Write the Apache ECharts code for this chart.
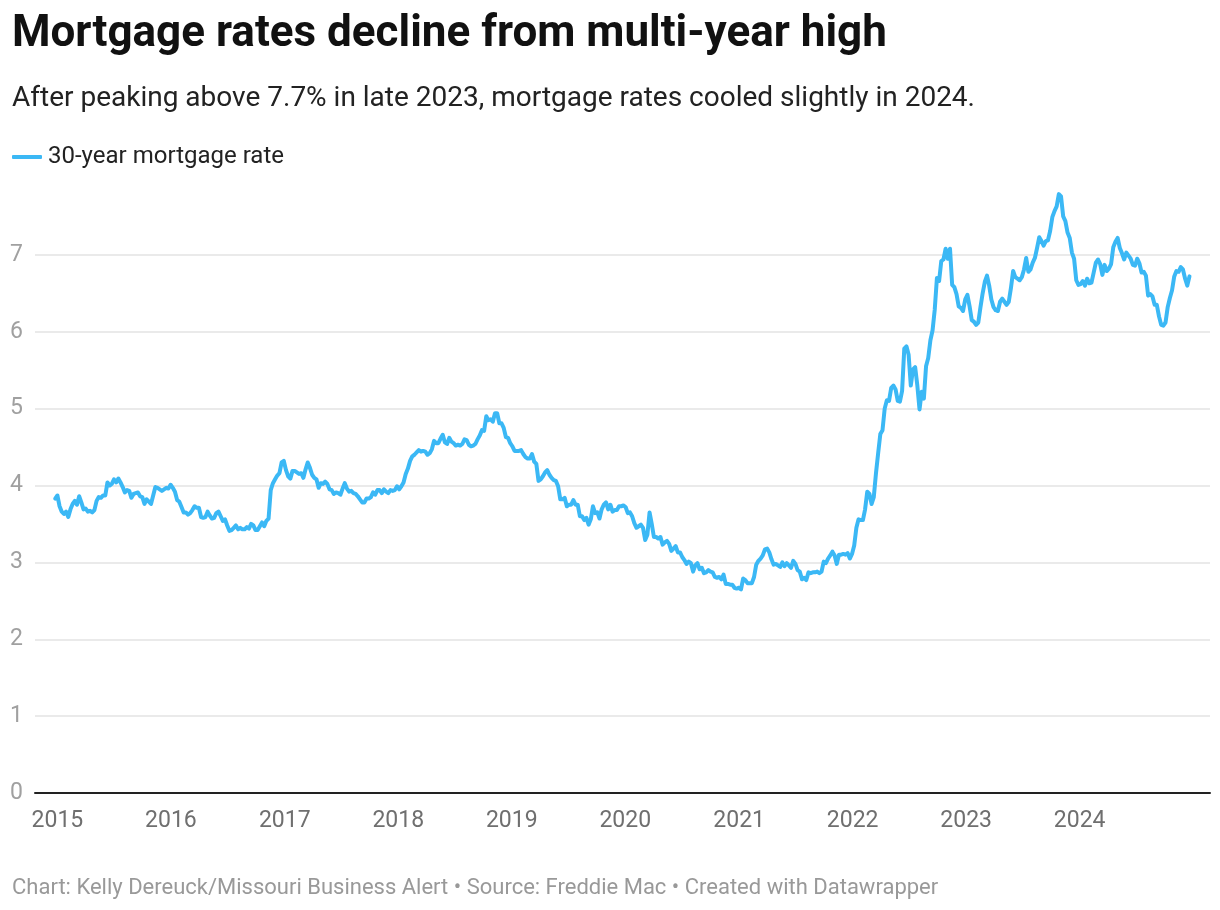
<!DOCTYPE html>
<html>
<head>
<meta charset="utf-8">
<script src="https://cdn.jsdelivr.net/npm/echarts@6/dist/echarts.min.js"></script>
<style>
  html, body { margin: 0; padding: 0; background: #ffffff; }
  #chart { width: 1220px; height: 910px; }
</style>
</head>
<body>
<div id="chart"></div>
<script>
// Weekly 30-year fixed mortgage rate (%), Freddie Mac PMMS.
var firstWeek = '2014-12-25';
var rates2014 = [3.83];
var rates2015 = [3.87,3.73,3.66,3.63,3.66,3.59,3.69,3.76,3.80,3.75,3.86,3.78,3.69,3.70,3.66,3.67,3.65,3.68,3.80,3.85,3.84,3.87,3.87,4.04,4.00,4.02,4.08,4.04,4.09,4.04,3.98,3.91,3.94,3.93,3.84,3.89,3.90,3.91,3.86,3.85,3.76,3.82,3.79,3.76,3.87,3.98,3.97,3.95,3.93,3.95,3.97,3.96,4.01];
var rates2016 = [3.97,3.92,3.81,3.79,3.72,3.65,3.65,3.62,3.64,3.68,3.73,3.71,3.71,3.59,3.58,3.59,3.66,3.61,3.57,3.58,3.64,3.66,3.60,3.54,3.56,3.48,3.41,3.42,3.45,3.48,3.43,3.45,3.43,3.43,3.46,3.44,3.50,3.48,3.42,3.42,3.47,3.52,3.47,3.54,3.57,3.94,4.03,4.08,4.13,4.16,4.30,4.32];
var rates2017 = [4.20,4.12,4.09,4.19,4.19,4.17,4.15,4.16,4.10,4.21,4.30,4.23,4.14,4.10,4.08,3.97,4.03,4.02,4.05,4.02,3.95,3.94,3.89,3.91,3.90,3.88,3.96,4.03,3.96,3.92,3.93,3.90,3.89,3.86,3.82,3.78,3.78,3.83,3.83,3.85,3.91,3.88,3.94,3.94,3.90,3.95,3.92,3.90,3.94,3.93,3.94,3.99];
var rates2018 = [3.95,3.99,4.04,4.15,4.22,4.32,4.38,4.40,4.43,4.46,4.44,4.45,4.44,4.40,4.42,4.47,4.58,4.55,4.55,4.61,4.66,4.56,4.54,4.62,4.57,4.55,4.52,4.53,4.52,4.54,4.60,4.59,4.53,4.51,4.52,4.54,4.60,4.65,4.72,4.71,4.90,4.85,4.86,4.83,4.94,4.94,4.81,4.81,4.75,4.63,4.62,4.55];
var rates2019 = [4.51,4.45,4.45,4.45,4.46,4.41,4.37,4.35,4.35,4.41,4.31,4.28,4.06,4.08,4.12,4.17,4.20,4.14,4.10,4.07,4.06,3.99,3.82,3.82,3.84,3.73,3.75,3.75,3.81,3.75,3.75,3.60,3.60,3.55,3.58,3.49,3.56,3.73,3.64,3.65,3.57,3.69,3.75,3.78,3.69,3.75,3.66,3.68,3.68,3.73,3.73,3.74];
var rates2020 = [3.72,3.64,3.65,3.60,3.51,3.45,3.47,3.49,3.45,3.29,3.36,3.65,3.50,3.33,3.33,3.31,3.33,3.23,3.26,3.28,3.24,3.15,3.18,3.21,3.13,3.13,3.07,3.03,2.98,3.01,2.99,2.88,2.96,2.99,2.91,2.93,2.86,2.87,2.90,2.88,2.87,2.81,2.80,2.81,2.78,2.84,2.72,2.72,2.71,2.71,2.67,2.66,2.67];
var rates2021 = [2.65,2.79,2.77,2.73,2.73,2.73,2.81,2.97,3.02,3.05,3.09,3.17,3.18,3.13,3.04,2.97,2.98,2.96,2.94,3.00,2.95,2.99,2.96,2.93,3.02,2.98,2.90,2.88,2.78,2.80,2.77,2.87,2.86,2.87,2.87,2.88,2.86,2.88,3.01,2.99,3.05,3.09,3.14,3.09,2.98,3.10,3.10,3.11,3.10,3.12,3.05,3.11];
var rates2022 = [3.22,3.45,3.56,3.55,3.55,3.69,3.92,3.89,3.76,3.85,4.16,4.42,4.67,4.72,5.00,5.11,5.10,5.27,5.30,5.25,5.10,5.09,5.23,5.78,5.81,5.70,5.30,5.51,5.54,5.30,4.99,5.22,5.13,5.55,5.66,5.89,6.02,6.29,6.70,6.66,6.92,6.94,7.08,6.95,7.08,6.61,6.58,6.49,6.33,6.31,6.27,6.42];
var rates2023 = [6.48,6.33,6.15,6.13,6.09,6.12,6.32,6.50,6.65,6.73,6.60,6.42,6.32,6.28,6.27,6.39,6.43,6.39,6.35,6.39,6.57,6.79,6.71,6.69,6.67,6.71,6.81,6.96,6.78,6.81,6.90,6.96,7.09,7.23,7.18,7.12,7.18,7.19,7.31,7.49,7.57,7.63,7.79,7.76,7.50,7.44,7.29,7.22,7.03,6.95,6.67,6.61];
var rates2024 = [6.62,6.66,6.60,6.69,6.63,6.64,6.77,6.90,6.94,6.88,6.74,6.87,6.79,6.82,6.88,7.10,7.17,7.22,7.09,7.02,6.94,7.03,6.99,6.95,6.87,6.86,6.95,6.89,6.77,6.78,6.73,6.47,6.49,6.46,6.35,6.35,6.20,6.09,6.08,6.12,6.32,6.44,6.54,6.72,6.79,6.78,6.84,6.81,6.69,6.60,6.72];
var yearLabels = ['2015','2016','2017','2018','2019','2020','2021','2022','2023','2024'];
var yTicks = [0,1,2,3,4,5,6,7];

var seriesName = '30-year mortgage rate';
var allRates = [].concat(rates2014, rates2015, rates2016, rates2017, rates2018, rates2019,
                         rates2020, rates2021, rates2022, rates2023, rates2024);
var DAY = 24 * 3600 * 1000;
var t0 = Date.parse(firstWeek + 'T00:00:00Z');
var seriesData = allRates.map(function (v, i) { return [t0 + i * 7 * DAY, v]; });

var xMin = Date.parse('2015-01-01T00:00:00Z') - 72 * DAY;
var xMax = Date.parse('2015-01-01T00:00:00Z') + 3706 * DAY;

var gridColors = yTicks.map(function () { return '#e3e3e3'; });
gridColors.push('rgba(0,0,0,0)');

var chart = echarts.init(document.getElementById('chart'), null, { renderer: 'canvas' });
chart.setOption({
  animation: false,
  backgroundColor: '#ffffff',
  textStyle: { fontFamily: 'Roboto' },
  title: [
    { text: 'Mortgage rates decline from multi-year high', left: 7, top: 8,
      textStyle: { fontFamily: 'Roboto', fontWeight: 'bold', fontSize: 44, color: '#111111' } },
    { text: 'After peaking above 7.7% in late 2023, mortgage rates cooled slightly in 2024.', left: 7, top: 80,
      textStyle: { fontFamily: 'Roboto', fontWeight: 'normal', fontSize: 28, color: '#222222' } },
    { text: 'Chart: Kelly Dereuck/Missouri Business Alert \u2022 Source: Freddie Mac \u2022 Created with Datawrapper', left: 7, top: 872,
      textStyle: { fontFamily: 'Roboto', fontWeight: 'normal', fontSize: 22, color: '#999999' } }
  ],
  legend: {
    data: [seriesName], left: 7, top: 140,
    icon: 'roundRect', itemWidth: 30, itemHeight: 4, itemGap: 10,
    textStyle: { fontFamily: 'Roboto', fontSize: 24, color: '#222222', padding: [0, 0, 0, 1] }
  },
  grid: { left: 35, right: 10, top: 178, bottom: 117, containLabel: false },
  xAxis: {
    type: 'time', min: xMin, max: xMax,
    minInterval: 365 * DAY, maxInterval: 366 * DAY,
    axisLine: { show: true, lineStyle: { color: '#222222', width: 2 } },
    axisTick: { show: false },
    splitLine: { show: false },
    axisLabel: {
      show: true, margin: 17, fontFamily: 'Roboto', fontSize: 23, color: '#6f6f6f',
      showMinLabel: false, showMaxLabel: false,
      formatter: function (v) {
        var y = String(new Date(v).getUTCFullYear());
        return yearLabels.indexOf(y) >= 0 ? y : '';
      }
    }
  },
  yAxis: {
    type: 'value', min: 0, max: 8, interval: 1,
    axisLine: { show: false }, axisTick: { show: false },
    splitLine: { show: true, lineStyle: { color: gridColors, width: 1.5 } },
    axisLabel: {
      margin: 12, fontFamily: 'Roboto', fontSize: 23, color: '#a0a0a0', showMaxLabel: false,
      formatter: function (v) { return yTicks.indexOf(v) >= 0 ? String(v) : ''; }
    }
  },
  series: [{
    name: seriesName, type: 'line', data: seriesData,
    showSymbol: false, symbol: 'none', smooth: false,
    lineStyle: { color: '#3bb8f5', width: 4, join: 'round', cap: 'round' },
    itemStyle: { color: '#3bb8f5' },
    z: 3
  }]
});
</script>
</body>
</html>
